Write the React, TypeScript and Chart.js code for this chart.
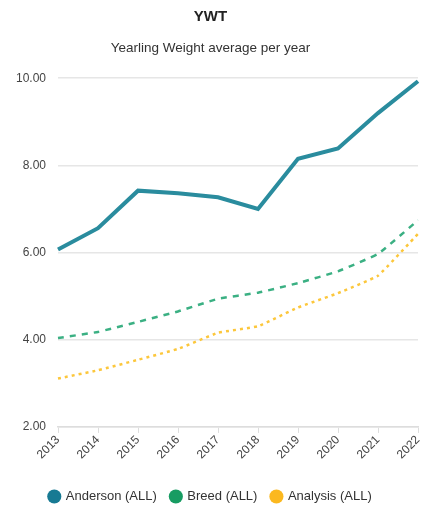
import React, { useEffect, useRef } from "react";
import { Chart, registerables } from "chart.js";

Chart.register(...registerables);

const years = ["2013", "2014", "2015", "2016", "2017", "2018", "2019", "2020", "2021", "2022"];
const anderson = [6.07, 6.56, 7.42, 7.36, 7.27, 7.0, 8.15, 8.39, 9.2, 9.93];
const breed = [4.04, 4.18, 4.41, 4.65, 4.94, 5.08, 5.3, 5.57, 5.97, 6.74];
const analysis = [3.11, 3.3, 3.54, 3.79, 4.16, 4.31, 4.74, 5.07, 5.47, 6.43];
const yTicks = [2, 4, 6, 8, 10];

const FONT = "'Liberation Sans', Arial, Helvetica, sans-serif";

export default function App() {
  const ref = useRef<HTMLCanvasElement | null>(null);
  useEffect(() => {
    document.body.style.margin = "0";
    if (!ref.current) return;
    const chart = new Chart(ref.current, {
      type: "line",
      data: {
        labels: years,
        datasets: [
          {
            label: "Anderson (ALL)",
            data: anderson,
            borderColor: "#2a8c9e",
            backgroundColor: "#177a93",
            borderWidth: 4,
            pointRadius: 0,
            tension: 0,
          },
          {
            label: "Breed (ALL)",
            data: breed,
            borderColor: "#3bb083",
            backgroundColor: "#179c62",
            borderWidth: 2.5,
            borderDash: [6, 6],
            pointRadius: 0,
            tension: 0.1,
          },
          {
            label: "Analysis (ALL)",
            data: analysis,
            borderColor: "#fcc73c",
            backgroundColor: "#fbb81f",
            borderWidth: 2.5,
            borderDash: [3, 4],
            pointRadius: 0,
            tension: 0.1,
          },
        ],
      },
      options: {
        animation: false,
        responsive: true,
        maintainAspectRatio: false,
        layout: { padding: { left: 0, right: 0, top: 4, bottom: -3 } },
        font: { family: FONT },
        plugins: {
          title: {
            display: true,
            text: "YWT",
            color: "#222",
            font: { family: FONT, size: 15, weight: "bold" },
            padding: { top: 4, bottom: 10 },
          },
          subtitle: {
            display: true,
            text: "Yearling Weight average per year",
            color: "#333",
            font: { family: FONT, size: 13.5 },
            padding: { top: 4, bottom: 22 },
          },
          legend: {
            position: "bottom",
            labels: {
              usePointStyle: true,
              pointStyle: "circle",
              boxWidth: 10,
              boxHeight: 10,
              color: "#333",
              padding: 14,
              font: { family: FONT, size: 13 },
              generateLabels: (c: any) =>
                c.data.datasets.map((d: any, i: number) => ({
                  text: d.label,
                  fillStyle: d.backgroundColor,
                  strokeStyle: d.backgroundColor,
                  lineWidth: 0,
                  pointStyle: "circle",
                  datasetIndex: i,
                  hidden: !c.isDatasetVisible(i),
                  fontColor: "#333",
                })),
            },
          },
          tooltip: { enabled: false },
        },
        scales: {
          x: {
            grid: { drawOnChartArea: false, drawTicks: true, tickLength: 6, color: "#ddd" },
            border: { display: true, color: "#ddd", width: 1.5 },
            ticks: {
              color: "#444",
              font: { family: FONT, size: 12 },
              maxRotation: 45,
              minRotation: 45,
              padding: 0,
            },
            afterFit: (axis: any) => {
              axis.paddingLeft = 0;
              axis.paddingRight = 3;
              axis.height += 14;
            },
          },
          y: {
            min: 2,
            max: 10,
            afterBuildTicks: (axis: any) => {
              axis.ticks = yTicks.map((v) => ({ value: v }));
            },
            afterFit: (axis: any) => {
              axis.width = 58;
            },
            grid: { color: "#e6e6e6", drawTicks: false, lineWidth: 1.5 },
            border: { display: false },
            ticks: {
              color: "#444",
              font: { family: FONT, size: 12 },
              padding: 12,
              callback: (v: any) => Number(v).toFixed(2),
            },
          },
        },
      },
    });
    return () => chart.destroy();
  }, []);
  return (
    <div style={{ position: "relative", width: 421, height: 510 }}>
      <canvas ref={ref} />
    </div>
  );
}
